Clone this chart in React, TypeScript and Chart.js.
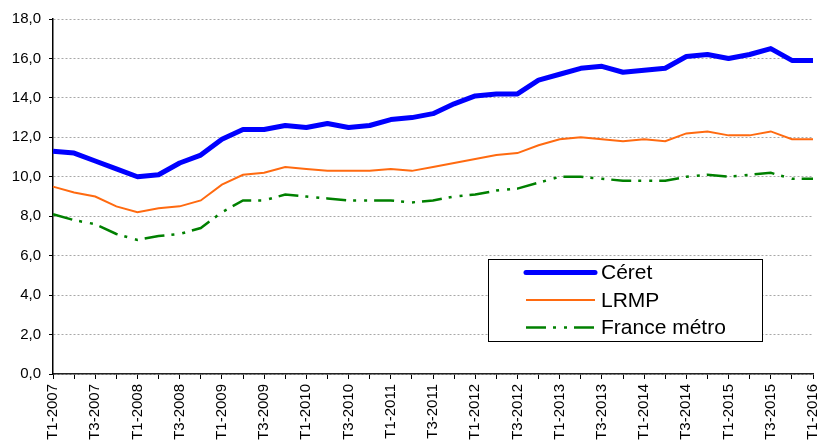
import React, { useEffect, useRef } from 'react';
import { Chart, registerables } from 'chart.js';

Chart.register(...registerables);

const quarters = [
  'T1-2007', 'T2-2007', 'T3-2007', 'T4-2007',
  'T1-2008', 'T2-2008', 'T3-2008', 'T4-2008',
  'T1-2009', 'T2-2009', 'T3-2009', 'T4-2009',
  'T1-2010', 'T2-2010', 'T3-2010', 'T4-2010',
  'T1-2011', 'T2-2011', 'T3-2011', 'T4-2011',
  'T1-2012', 'T2-2012', 'T3-2012', 'T4-2012',
  'T1-2013', 'T2-2013', 'T3-2013', 'T4-2013',
  'T1-2014', 'T2-2014', 'T3-2014', 'T4-2014',
  'T1-2015', 'T2-2015', 'T3-2015', 'T4-2015',
  'T1-2016',
];

const ceret = [
  11.3, 11.2, 10.8, 10.4, 10.0, 10.1, 10.7, 11.1,
  11.9, 12.4, 12.4, 12.6, 12.5, 12.7, 12.5, 12.6,
  12.9, 13.0, 13.2, 13.7, 14.1, 14.2, 14.2, 14.9,
  15.2, 15.5, 15.6, 15.3, 15.4, 15.5, 16.1, 16.2,
  16.0, 16.2, 16.5, 15.9, 15.9,
];

const lrmp = [
  9.5, 9.2, 9.0, 8.5, 8.2, 8.4, 8.5, 8.8,
  9.6, 10.1, 10.2, 10.5, 10.4, 10.3, 10.3, 10.3,
  10.4, 10.3, 10.5, 10.7, 10.9, 11.1, 11.2, 11.6,
  11.9, 12.0, 11.9, 11.8, 11.9, 11.8, 12.2, 12.3,
  12.1, 12.1, 12.3, 11.9, 11.9,
];

const franceMetro = [
  8.1, 7.8, 7.6, 7.1, 6.8, 7.0, 7.1, 7.4,
  8.2, 8.8, 8.8, 9.1, 9.0, 8.9, 8.8, 8.8,
  8.8, 8.7, 8.8, 9.0, 9.1, 9.3, 9.4, 9.7,
  10.0, 10.0, 9.9, 9.8, 9.8, 9.8, 10.0, 10.1,
  10.0, 10.1, 10.2, 9.9, 9.9,
];

const seriesNames = ['Céret', 'LRMP', 'France métro'];

const FONT = '"Liberation Sans", Arial, sans-serif';

const legendPlugin = {
  id: 'boxLegend',
  afterDraw(chart: any) {
    const ctx = chart.ctx;
    const left = 488.5;
    const top = 259.5;
    const w = 274;
    const h = 82;
    ctx.save();
    ctx.fillStyle = '#ffffff';
    ctx.fillRect(left, top, w, h);
    ctx.strokeStyle = '#000000';
    ctx.lineWidth = 1;
    ctx.setLineDash([]);
    ctx.strokeRect(left, top, w, h);
    const rows = [272.5, 300, 327.5];
    chart.data.datasets.forEach((ds: any, i: number) => {
      const y = rows[i];
      ctx.beginPath();
      ctx.strokeStyle = ds.borderColor;
      ctx.lineWidth = ds.borderWidth;
      ctx.lineCap = i === 0 ? 'round' : 'butt';
      ctx.setLineDash(ds.borderDash || []);
      ctx.moveTo(526, y);
      ctx.lineTo(595, y);
      ctx.stroke();
      ctx.setLineDash([]);
      ctx.fillStyle = '#000000';
      ctx.font = `21px ${FONT}`;
      ctx.textBaseline = 'middle';
      ctx.textAlign = 'left';
      ctx.fillText(ds.label, 601, y + 1);
    });
    ctx.restore();
  },
};

export default function App() {
  const canvasRef = useRef<HTMLCanvasElement | null>(null);

  useEffect(() => {
    const canvas = canvasRef.current;
    if (!canvas) return;
    const chart = new Chart(canvas, {
      type: 'line',
      data: {
        labels: quarters,
        datasets: [
          {
            label: seriesNames[0],
            data: ceret,
            borderColor: '#0000ff',
            backgroundColor: '#0000ff',
            borderWidth: 5,
            pointRadius: 0,
            tension: 0,
            borderJoinStyle: 'round',
          },
          {
            label: seriesNames[1],
            data: lrmp,
            borderColor: '#ff6a10',
            backgroundColor: '#ff6a10',
            borderWidth: 2,
            pointRadius: 0,
            tension: 0,
          },
          {
            label: seriesNames[2],
            data: franceMetro,
            borderColor: '#008000',
            backgroundColor: '#008000',
            borderWidth: 2.5,
            borderDash: [20, 7, 3, 8, 3, 7],
            pointRadius: 0,
            tension: 0,
          },
        ],
      },
      options: {
        animation: false,
        responsive: false,
        maintainAspectRatio: false,
        layout: { padding: { top: 19, right: 6, left: 0, bottom: 0 } },
        plugins: {
          legend: { display: false },
          tooltip: { enabled: false },
        },
        scales: {
          x: {
            type: 'category',
            offset: false,
            grid: {
              drawOnChartArea: false,
              drawTicks: true,
              tickLength: 5,
              tickColor: '#000000',
              tickWidth: 1,
            },
            border: { display: true, color: '#222222', width: 1.5 },
            ticks: {
              autoSkip: false,
              maxRotation: 90,
              minRotation: 90,
              padding: 5,
              color: '#000000',
              font: { family: FONT, size: 15 },
              callback: (_v: any, i: number) => (i % 2 === 0 ? quarters[i] : ''),
            },
            afterFit: (scale: any) => {
              scale.height = 67;
              scale.paddingLeft = 0;
              scale.paddingRight = 0;
            },
          },
          y: {
            min: 0,
            max: 18,
            grid: {
              color: '#a8a8a8',
              lineWidth: 1,
              drawTicks: true,
              tickLength: 4,
              tickColor: '#000000',
              tickBorderDash: [],
            },
            border: { display: true, color: '#000000', width: 1.5, dash: [2, 2] },
            ticks: {
              stepSize: 2,
              padding: 8,
              color: '#000000',
              font: { family: FONT, size: 15 },
              callback: (v: any) => Number(v).toFixed(1).replace('.', ','),
            },
            afterFit: (scale: any) => {
              scale.width = 53;
            },
          },
        },
      },
      plugins: [legendPlugin],
    });
    return () => chart.destroy();
  }, []);

  return (
    <div style={{ position: 'fixed', left: 0, top: 0, width: 819, height: 441, background: '#fff' }}>
      <canvas ref={canvasRef} width={819} height={441} style={{ width: 819, height: 441 }} />
    </div>
  );
}
